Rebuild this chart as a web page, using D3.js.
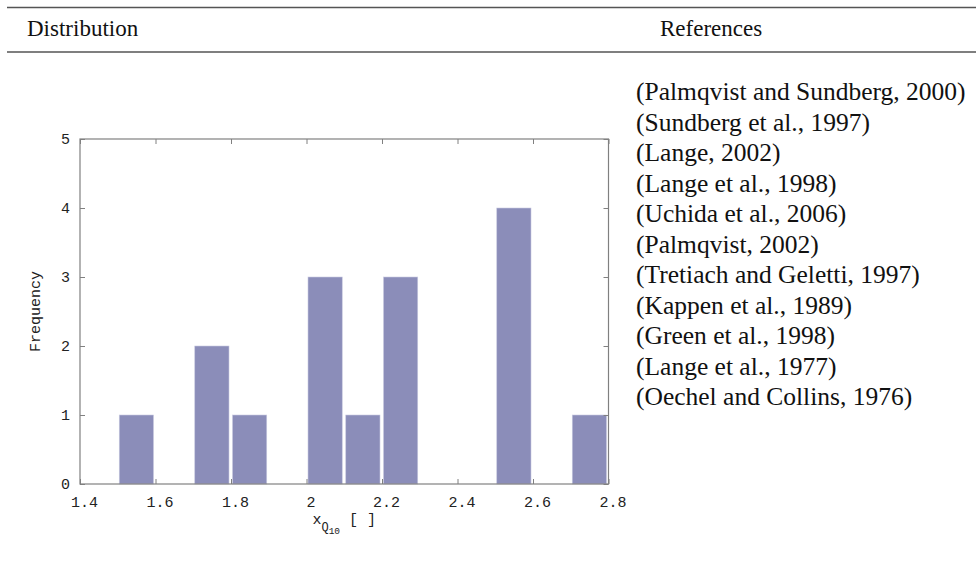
<!DOCTYPE html>
<html>
<head>
<meta charset="utf-8">
<script src="https://cdn.jsdelivr.net/npm/d3@7/dist/d3.min.js"></script>
<style>
  html, body { margin: 0; padding: 0; background: #fff; }
  svg { display: block; }
</style>
</head>
<body>
<svg id="chart" width="976" height="562"></svg>
<script>
// ---- data ----
const binStarts = [1.5, 1.7, 1.8, 2.0, 2.1, 2.2, 2.5, 2.7];
const counts    = [1,   2,   1,   3,   1,   3,   4,   1];
const binWidth  = 0.1;
const xTicks = [1.4, 1.6, 1.8, 2.0, 2.2, 2.4, 2.6, 2.8];
const xTickLabels = ["1.4", "1.6", "1.8", "2", "2.2", "2.4", "2.6", "2.8"];
const yTicks = [0, 1, 2, 3, 4, 5];
const headers = ["Distribution", "References"];
const references = [
  "(Palmqvist and Sundberg, 2000)",
  "(Sundberg et al., 1997)",
  "(Lange, 2002)",
  "(Lange et al., 1998)",
  "(Uchida et al., 2006)",
  "(Palmqvist, 2002)",
  "(Tretiach and Geletti, 1997)",
  "(Kappen et al., 1989)",
  "(Green et al., 1998)",
  "(Lange et al., 1977)",
  "(Oechel and Collins, 1976)"
];

// ---- layout ----
const svg = d3.select("#chart");
const plot = { left: 80, right: 608.5, top: 139, bottom: 484 };
const x = d3.scaleLinear().domain([1.4, 2.8]).range([plot.left, plot.right]);
const y = d3.scaleLinear().domain([0, 5]).range([plot.bottom, plot.top]);

// header rules
const serif = "'Liberation Serif', 'Times New Roman', serif";
const mono = "'Liberation Mono', 'Courier New', monospace";
[7.5, 52].forEach(yy => {
  svg.append("line").attr("x1", 7).attr("x2", 976).attr("y1", yy).attr("y2", yy)
    .attr("stroke", "#555").attr("stroke-width", 1.5);
});
svg.append("text").attr("x", 27).attr("y", 36).text(headers[0])
  .attr("font-family", serif).attr("font-size", 23).attr("fill", "#111");
svg.append("text").attr("x", 660).attr("y", 36).text(headers[1])
  .attr("font-family", serif).attr("font-size", 23).attr("fill", "#111");

// references
svg.append("g").selectAll("text").data(references).join("text")
  .attr("x", 636)
  .attr("y", (d, i) => 100 + i * 30.5)
  .attr("font-family", serif).attr("font-size", 25.5).attr("fill", "#111")
  .text(d => d);

// bars
const bins = binStarts.map((s, i) => ({ x0: s, x1: s + binWidth, n: counts[i] }));
svg.append("g").selectAll("rect").data(bins).join("rect")
  .attr("x", d => x(d.x0) + 1.5)
  .attr("width", d => x(d.x1) - x(d.x0) - 3.5)
  .attr("y", d => y(d.n))
  .attr("height", d => y(0) - y(d.n))
  .attr("fill", "#8b8db9")
  .attr("stroke", "#c9cae0").attr("stroke-width", 0.6);

// axes (inward ticks, gnuplot style)
const frameColor = "#808080";
function style(g) {
  g.selectAll("path.domain").remove();
  g.selectAll(".tick line").attr("stroke", frameColor);
  g.selectAll("text").attr("font-family", mono).attr("font-size", 15).attr("fill", "#222");
}
svg.append("g").attr("transform", `translate(0,${plot.bottom})`)
  .call(d3.axisBottom(x).tickValues(xTicks).tickFormat((d, i) => xTickLabels[i]).tickSize(-5).tickPadding(12))
  .call(style)
  .call(g => g.selectAll("text").attr("dx", 4));
svg.append("g").attr("transform", `translate(0,${plot.top})`)
  .call(d3.axisTop(x).tickValues(xTicks).tickFormat("").tickSize(-5))
  .call(style);
svg.append("g").attr("transform", `translate(${plot.left},0)`)
  .call(d3.axisLeft(y).tickValues(yTicks).tickFormat(d3.format("d")).tickSize(-5).tickPadding(10))
  .call(style);
svg.append("g").attr("transform", `translate(${plot.right},0)`)
  .call(d3.axisRight(y).tickValues(yTicks).tickFormat("").tickSize(-5))
  .call(style);

// frame
svg.append("rect")
  .attr("x", plot.left).attr("y", plot.top)
  .attr("width", plot.right - plot.left).attr("height", plot.bottom - plot.top)
  .attr("fill", "none").attr("stroke", frameColor).attr("stroke-width", 1.2);

// axis titles
const cx = (plot.left + plot.right) / 2;
const xl = svg.append("text").attr("x", cx).attr("y", 524)
  .attr("text-anchor", "middle").attr("font-family", mono).attr("fill", "#222").attr("font-size", 15);
xl.append("tspan").text("x");
xl.append("tspan").attr("font-size", 12).attr("dy", 7).text("Q");
xl.append("tspan").attr("font-size", 9.5).attr("dy", 3).text("10");
xl.append("tspan").attr("font-size", 15).attr("dy", -10).text(" [ ]");

svg.append("text")
  .attr("transform", `translate(40,${(plot.top + plot.bottom) / 2}) rotate(-90)`)
  .attr("text-anchor", "middle").attr("font-family", mono).attr("font-size", 15).attr("fill", "#222")
  .text("Frequency");
</script>
</body>
</html>
